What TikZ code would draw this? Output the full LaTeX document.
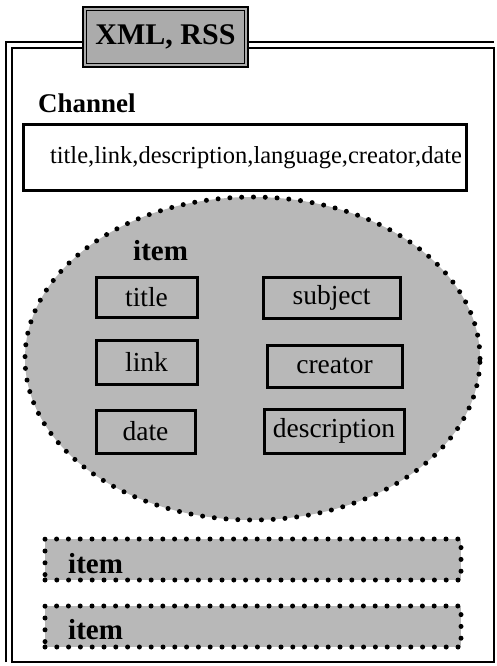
\documentclass[tikz,border=0pt]{standalone}
\usepackage{fontspec}
\setmainfont{Liberation Serif}
\usetikzlibrary{shapes.geometric}
\definecolor{shade}{gray}{0.72}
\definecolor{shadedark}{gray}{0.67}
\tikzset{
  frameline/.style={line width=2pt},
  headbox/.style={draw, line width=2.2pt, fill=shadedark, rectangle,
    inner sep=0pt, font=\fontsize{30}{30}\selectfont\bfseries},
  bold27/.style={inner sep=0pt, font=\fontsize{27}{27}\selectfont\bfseries},
  chanbox/.style={draw, line width=3pt, fill=white, rectangle,
    inner xsep=4pt, inner ysep=0pt, text width=435pt, align=right,
    minimum height=65pt, font=\fontsize{24.5}{24.5}\selectfont},
  dotted border/.style={draw, line width=5pt, line cap=round,
    dash pattern=on 0pt off 11.8pt},
  itemblob/.style={ellipse, fill=shade, dotted border, inner sep=0pt,
    minimum width=455pt, minimum height=323pt},
  fieldbox/.style={draw, line width=3pt, rectangle, inner sep=0pt,
    font=\fontsize{27.5}{27.5}\selectfont},
  itembar/.style={rectangle, fill=shade, dotted border, inner sep=0pt,
    minimum width=416pt, minimum height=41pt},
  itemlabel/.style={inner sep=0pt, font=\fontsize{29}{29}\selectfont\bfseries},
}
\begin{document}
\begin{tikzpicture}[x=1pt,y=-1pt]
\useasboundingbox (0,0) rectangle (496,666);

% outer frame: double line on the top and left sides
\draw[frameline] (12,48) rectangle (493.5,662);
\draw[frameline] (6,662) -- (6,42) -- (493.5,42);

% heading tab
\node[headbox, minimum width=165pt, minimum height=60pt] (head) at (165.5,37) {XML, RSS};
\draw[line width=1.2pt] ([shift={(4.5pt,4.5pt)}]head.south west)
  rectangle ([shift={(-4.5pt,-4.5pt)}]head.north east);

% channel
\node[bold27, anchor=base west] (chan) at (38,113) {Channel};
\node[chanbox] (chanfields) at (244.5,157.5) {title,link,description,language,creator,date};

% expanded item
\node[itemblob] (blob) at (252.5,358.5) {};
\node[itemlabel, anchor=base west] (blobname) at (133,260) {item};

\node[fieldbox, minimum width=101pt, minimum height=40pt] (ftitle) at (146.5,297) {title};
\node[fieldbox, minimum width=137pt, minimum height=41pt] (fsubject) at (331.5,297.5) {subject};
\node[fieldbox, minimum width=101pt, minimum height=44pt] (flink) at (146.5,362) {link};
\node[fieldbox, minimum width=135pt, minimum height=42pt] (fcreator) at (334.5,366) {creator};
\node[fieldbox, minimum width=99pt, minimum height=43pt] (fdate) at (145.5,431.5) {date};
\node[fieldbox, minimum width=140pt, minimum height=44pt] (fdesc) at (334,431) {description};

% collapsed items
\node[itembar] (bar1) at (253,559.5) {};
\node[itemlabel, anchor=base west] (bar1name) at (68,573) {item};
\node[itembar] (bar2) at (253,626.5) {};
\node[itemlabel, anchor=base west] (bar2name) at (68,639) {item};
\end{tikzpicture}
\end{document}
